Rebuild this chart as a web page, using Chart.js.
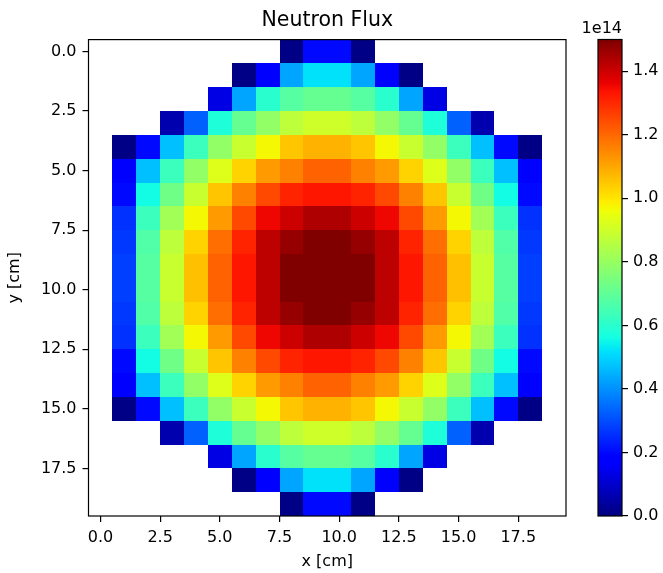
<!DOCTYPE html>
<html>
<head>
<meta charset="utf-8">
<script src="https://cdn.jsdelivr.net/npm/chart.js@4/dist/chart.umd.min.js"></script>
<style>
  html, body { margin: 0; padding: 0; background: #fff; }
  #wrap { position: relative; width: 663px; height: 573px; }
  #wrap canvas { position: absolute; left: 0; top: 0; }
</style>
</head>
<body>
<div id="wrap">
  <canvas id="mapa" width="663" height="573"></canvas>
  <canvas id="barra" width="663" height="573"></canvas>
</div>
<script>
// neutron flux in units of 1e14, row = y index, column = x index
const _ = null;
const flux = [
  [_, _, _, _, _, _, _, _, 0.01, 0.2, 0.2, 0.01, _, _, _, _, _, _, _, _],
  [_, _, _, _, _, _, 0.01, 0.18, 0.43, 0.52, 0.52, 0.43, 0.18, 0.01, _, _, _, _, _, _],
  [_, _, _, _, _, 0.13, 0.43, 0.6, 0.68, 0.71, 0.71, 0.68, 0.6, 0.43, 0.13, _, _, _, _, _],
  [_, _, _, 0.06, 0.33, 0.58, 0.71, 0.79, 0.87, 0.9, 0.9, 0.87, 0.79, 0.71, 0.58, 0.33, 0.06, _, _, _],
  [_, 0.01, 0.2, 0.47, 0.63, 0.79, 0.89, 0.97, 1.05, 1.08, 1.08, 1.05, 0.97, 0.89, 0.79, 0.63, 0.47, 0.2, 0.01, _],
  [_, 0.17, 0.47, 0.63, 0.79, 0.93, 1.03, 1.12, 1.16, 1.21, 1.21, 1.16, 1.12, 1.03, 0.93, 0.79, 0.63, 0.47, 0.17, _],
  [_, 0.2, 0.56, 0.73, 0.89, 1.05, 1.16, 1.25, 1.31, 1.33, 1.33, 1.31, 1.25, 1.16, 1.05, 0.89, 0.73, 0.56, 0.2, _],
  [_, 0.26, 0.63, 0.82, 0.97, 1.12, 1.25, 1.355, 1.4, 1.44, 1.44, 1.4, 1.355, 1.25, 1.12, 0.97, 0.82, 0.63, 0.26, _],
  [_, 0.27, 0.67, 0.87, 1.03, 1.19, 1.31, 1.42, 1.47, 1.5, 1.5, 1.47, 1.42, 1.31, 1.19, 1.03, 0.87, 0.67, 0.27, _],
  [_, 0.28, 0.68, 0.89, 1.06, 1.21, 1.33, 1.42, 1.5, 1.5, 1.5, 1.5, 1.42, 1.33, 1.21, 1.06, 0.89, 0.68, 0.28, _],
  [_, 0.28, 0.68, 0.89, 1.06, 1.21, 1.33, 1.42, 1.5, 1.5, 1.5, 1.5, 1.42, 1.33, 1.21, 1.06, 0.89, 0.68, 0.28, _],
  [_, 0.27, 0.67, 0.87, 1.03, 1.19, 1.31, 1.42, 1.47, 1.5, 1.5, 1.47, 1.42, 1.31, 1.19, 1.03, 0.87, 0.67, 0.27, _],
  [_, 0.26, 0.63, 0.82, 0.97, 1.12, 1.25, 1.355, 1.4, 1.44, 1.44, 1.4, 1.355, 1.25, 1.12, 0.97, 0.82, 0.63, 0.26, _],
  [_, 0.2, 0.56, 0.73, 0.89, 1.05, 1.16, 1.25, 1.31, 1.33, 1.33, 1.31, 1.25, 1.16, 1.05, 0.89, 0.73, 0.56, 0.2, _],
  [_, 0.17, 0.47, 0.63, 0.79, 0.93, 1.03, 1.12, 1.16, 1.21, 1.21, 1.16, 1.12, 1.03, 0.93, 0.79, 0.63, 0.47, 0.17, _],
  [_, 0.01, 0.2, 0.47, 0.63, 0.79, 0.89, 0.97, 1.05, 1.08, 1.08, 1.05, 0.97, 0.89, 0.79, 0.63, 0.47, 0.2, 0.01, _],
  [_, _, _, 0.06, 0.33, 0.58, 0.71, 0.79, 0.87, 0.9, 0.9, 0.87, 0.79, 0.71, 0.58, 0.33, 0.06, _, _, _],
  [_, _, _, _, _, 0.13, 0.43, 0.6, 0.68, 0.71, 0.71, 0.68, 0.6, 0.43, 0.13, _, _, _, _, _],
  [_, _, _, _, _, _, 0.01, 0.18, 0.43, 0.52, 0.52, 0.43, 0.18, 0.01, _, _, _, _, _, _],
  [_, _, _, _, _, _, _, _, 0.01, 0.2, 0.2, 0.01, _, _, _, _, _, _, _, _],
];
const xTicks = [0, 2.5, 5, 7.5, 10, 12.5, 15, 17.5];
const yTicks = [0, 2.5, 5, 7.5, 10, 12.5, 15, 17.5];
const cbTicks = [0, 0.2, 0.4, 0.6, 0.8, 1.0, 1.2, 1.4];
const vmin = 0;
const vmax = 1.5;

Chart.defaults.font.family = "'DejaVu Sans', sans-serif";
Chart.defaults.font.size = 16;
Chart.defaults.color = "#000";

// matplotlib jet
function interp(t, xs, ys) {
  for (let i = 1; i < xs.length; i++) {
    if (t <= xs[i]) {
      const f = (t - xs[i - 1]) / (xs[i] - xs[i - 1]);
      return ys[i - 1] + f * (ys[i] - ys[i - 1]);
    }
  }
  return ys[ys.length - 1];
}
function jet(v) {
  let t = (v - vmin) / (vmax - vmin);
  t = Math.max(0, Math.min(1, t));
  const r = interp(t, [0, 0.35, 0.66, 0.89, 1], [0, 0, 1, 1, 0.5]);
  const g = interp(t, [0, 0.125, 0.375, 0.64, 0.91, 1], [0, 0, 1, 1, 0, 0]);
  const b = interp(t, [0, 0.11, 0.34, 0.65, 1], [0.5, 1, 1, 0, 0]);
  return `rgb(${Math.round(r * 255)},${Math.round(g * 255)},${Math.round(b * 255)})`;
}

const pontos = [];
flux.forEach((linha, j) => {
  linha.forEach((v, i) => {
    if (v !== null) pontos.push({ x: i, y: j, v: v });
  });
});

const fixarTicks = (vals) => (scale) => {
  scale.ticks = vals.map((v) => ({ value: v }));
};

const celulas = {
  id: "celulas",
  beforeDatasetsDraw(chart) {
    const { ctx, scales } = chart;
    ctx.save();
    chart.data.datasets[0].data.forEach((p) => {
      const x0 = Math.round(scales.x.getPixelForValue(p.x - 0.5));
      const x1 = Math.round(scales.x.getPixelForValue(p.x + 0.5));
      const y0 = Math.round(scales.y.getPixelForValue(p.y - 0.5));
      const y1 = Math.round(scales.y.getPixelForValue(p.y + 0.5));
      ctx.fillStyle = jet(p.v);
      ctx.fillRect(Math.min(x0, x1), Math.min(y0, y1), Math.abs(x1 - x0), Math.abs(y1 - y0));
    });
    ctx.restore();
  },
};

const moldura = {
  id: "moldura",
  afterDraw(chart) {
    const a = chart.chartArea;
    const ctx = chart.ctx;
    ctx.save();
    ctx.strokeStyle = "#000";
    ctx.lineWidth = 1.2;
    ctx.strokeRect(a.left, a.top, a.right - a.left, a.bottom - a.top);
    ctx.restore();
  },
};

const eixoComum = {
  type: "linear",
  min: -0.5,
  max: 19.5,
  border: { display: false },
  grid: { drawOnChartArea: false, drawTicks: true, tickLength: 6, color: "#000", lineWidth: 1.2 },
};

new Chart(document.getElementById("mapa"), {
  type: "scatter",
  data: { datasets: [{ data: pontos, pointRadius: 0, pointHoverRadius: 0 }] },
  options: {
    responsive: false,
    animation: false,
    events: [],
    layout: { padding: { left: 0, right: 97, top: 0, bottom: 0 } },
    plugins: {
      legend: { display: false },
      tooltip: { enabled: false },
      title: {
        display: true,
        text: "Neutron Flux",
        fullSize: false,
        font: { size: 20.5, weight: "normal" },
        padding: { top: 8, bottom: 7 },
      },
    },
    scales: {
      x: {
        ...eixoComum,
        afterBuildTicks: fixarTicks(xTicks),
        afterFit: (s) => { s.height = 57; },
        ticks: { padding: 6, callback: (v) => v.toFixed(1) },
        title: { display: true, text: "x [cm]", font: { size: 16 }, padding: { top: 0, bottom: 2 } },
      },
      y: {
        ...eixoComum,
        reverse: true,
        afterBuildTicks: fixarTicks(yTicks),
        afterFit: (s) => { s.width = 88.5; },
        ticks: { padding: 6, callback: (v) => v.toFixed(1) },
        title: { display: true, text: "y [cm]", font: { size: 16 }, padding: { top: 5, bottom: 0 } },
      },
    },
  },
  plugins: [celulas, moldura],
});

const gradiente = {
  id: "gradiente",
  beforeDatasetsDraw(chart) {
    const { ctx, chartArea: a, scales } = chart;
    const yb = scales.y.getPixelForValue(vmin);
    const yt = scales.y.getPixelForValue(vmax);
    const grad = ctx.createLinearGradient(0, yb, 0, yt);
    for (let k = 0; k <= 200; k++) {
      grad.addColorStop(k / 200, jet(vmin + (vmax - vmin) * k / 200));
    }
    ctx.save();
    ctx.fillStyle = grad;
    ctx.fillRect(a.left, yt, a.right - a.left, yb - yt);
    ctx.fillStyle = "#000";
    ctx.font = "16px 'DejaVu Sans'";
    ctx.textAlign = "right";
    ctx.textBaseline = "alphabetic";
    ctx.fillText("1e14", a.right, a.top - 7);
    ctx.restore();
  },
};

new Chart(document.getElementById("barra"), {
  type: "scatter",
  data: { datasets: [{ data: [], pointRadius: 0 }] },
  options: {
    responsive: false,
    animation: false,
    events: [],
    layout: { padding: { left: 598, right: 0, top: 39.5, bottom: 57 } },
    plugins: { legend: { display: false }, tooltip: { enabled: false } },
    scales: {
      x: { display: false },
      y: {
        type: "linear",
        position: "right",
        min: vmin,
        max: vmax,
        border: { display: false },
        grid: { drawOnChartArea: false, drawTicks: true, tickLength: 6, color: "#000", lineWidth: 1.2 },
        afterBuildTicks: fixarTicks(cbTicks),
        afterFit: (s) => { s.width = 41; },
        ticks: { padding: 5, callback: (v) => v.toFixed(1) },
      },
    },
  },
  plugins: [gradiente, moldura],
});
</script>
</body>
</html>
